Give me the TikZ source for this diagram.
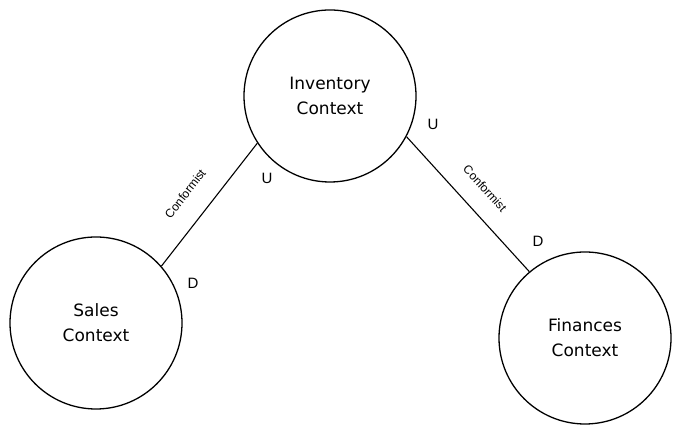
\documentclass[tikz,border=0pt]{standalone}
\usepackage{fontspec}
\setmainfont{Liberation Sans}
\newfontfamily\ctxfont{DejaVu Sans}

\begin{document}
\begin{tikzpicture}[x = 1pt, y = 1pt,
		context/.style = {draw, circle, line width = 1.3pt, minimum size = 172pt, align = center, font = \ctxfont\fontsize{17}{25}\selectfont},
		rel/.style = {font = \fontsize{12}{14}\selectfont},
		side/.style = {font = \fontsize{15}{18}\selectfont}]
	\useasboundingbox (0, 0) rectangle (680, 430);
	\node [context] (inventory) at (330, 334) {Inventory\\Context};
	\node [context] (sales) at (96, 107) {Sales\\Context};
	\node [context] (finances) at (585, 92) {Finances\\Context};
	\draw [black, line width = 1.1pt] (sales.41) -- (inventory.213) node [rel, pos = 0.46, sloped, above = 17.5pt] (conf1) {Conformist};
	\draw [black, line width = 1.1pt] (inventory.332) -- (finances.130) node [rel, pos = 0.5, sloped, above = 15pt] (conf2) {Conformist};
	\node [side] (u1) at (267, 252) {U};
	\node [side] (d1) at (193, 147) {D};
	\node [side] (u2) at (433, 306) {U};
	\node [side] (d2) at (538, 189) {D};
\end{tikzpicture}
\end{document}
